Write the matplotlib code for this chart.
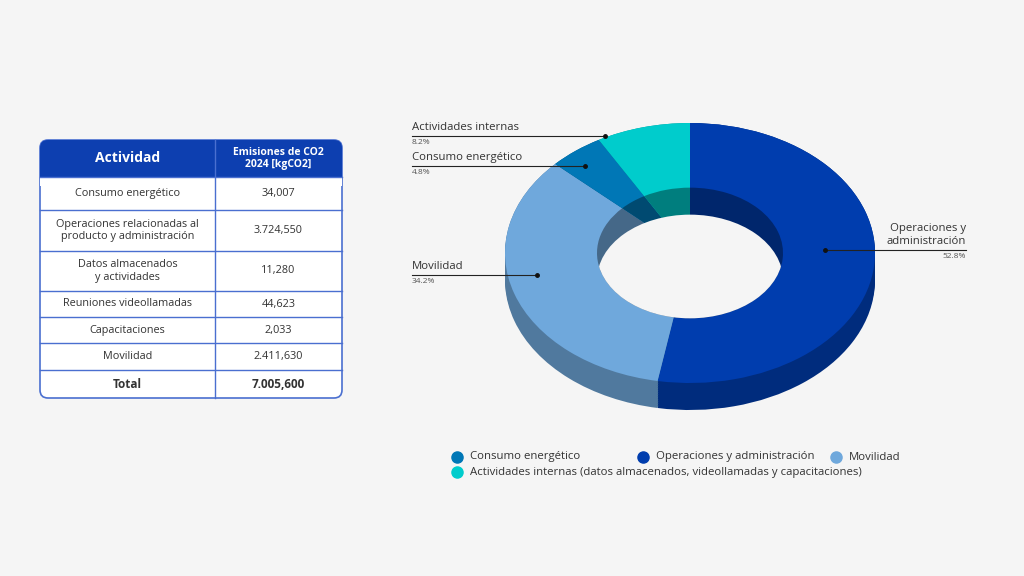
import matplotlib
matplotlib.use("Agg")
import matplotlib.pyplot as plt
from matplotlib.patches import FancyBboxPatch, Rectangle, Circle
import colorsys
import matplotlib.colors as mc

plt.rcParams['font.family'] = ['Open Sans', 'DejaVu Sans']

# Data
rows = ["Consumo energético", "Operaciones relacionadas al\nproducto y administración",
        "Datos almacenados\ny actividades", "Reuniones videollamadas",
        "Capacitaciones", "Movilidad"]
row_vals = ["34,007", "3.724,550", "11,280", "44,623", "2,033", "2.411,630"]
total_val = "7.005,600"

slices = ["Operaciones y\nadministración", "Movilidad", "Consumo energético", "Actividades internas"]
shares = [52.8, 34.2, 4.8, 8.2]
colors = ["#003DAE", "#6FA8DC", "#0077B6", "#00CCCC"]
legend_labels = ["Consumo energético", "Operaciones y administración", "Movilidad",
                 "Actividades internas (datos almacenados, videollamadas y capacitaciones)"]
legend_colors = ["#0077B6", "#003DAE", "#6FA8DC", "#00CCCC"]

BG = "#F5F5F5"
W, H = 1024, 576
fig = plt.figure(figsize=(W / 100, H / 100), dpi=100, facecolor=BG)

def darker(c, f):
    r, g, b = mc.to_rgb(c)
    return (r * f, g * f, b * f)

# ---- donut (3D look) ----
cx, cy, rx, ry = 690, 253, 185, 130
L, R, T, B = 480, 900, 100, 430
dax = fig.add_axes([L / W, 1 - B / H, (R - L) / W, (B - T) / H])
dax.set_xlim(-(cx - L) / rx, (R - cx) / rx)
dax.set_ylim(-(B - cy) / ry, (cy - T) / ry)
dax.axis("off")
depth = 27 / ry
rin = 93 / rx
side = [darker(c, 0.72) for c in colors]
kw = dict(startangle=90, counterclock=False, radius=1, frame=True)
n = 12
for i in range(n + 1):
    dax.pie(shares, colors=side, center=(0, -depth * (1 - i / n)), **kw)
dax.pie(shares, colors=colors, center=(0, 0), **kw)
inner = [darker(c, 0.62) for c in colors]
w, _ = dax.pie(shares, colors=inner, center=(0, 0), startangle=90,
               counterclock=False, radius=rin, frame=True)
clip = Circle((0, 0), rin, transform=dax.transData)
hole = Circle((0, -depth), rin, facecolor=BG, edgecolor="none", zorder=10)
dax.add_patch(hole)
hole.set_clip_path(clip)
dax.set_xlim(-(cx - L) / rx, (R - cx) / rx)
dax.set_ylim(-(B - cy) / ry, (cy - T) / ry)
dax.set_aspect("auto")
dax.axis("off")

# ---- overlay in pixel coords ----
ax = fig.add_axes([0, 0, 1, 1], facecolor="none")
ax.set_xlim(0, W)
ax.set_ylim(H, 0)
ax.axis("off")

# annotations: (text x, line y, line x0, x1, dot x, dot y, align)
ann = [
    (slices[3], "8.2%", 412, 136, 412, 605, 605, 136, "left"),
    (slices[2], "4.8%", 412, 166, 412, 585, 585, 166, "left"),
    ("Movilidad", "34.2%", 412, 275, 412, 537, 537, 275, "left"),
    (slices[0], "52.8%", 966, 250, 825, 966, 825, 250, "right"),
]
for name, pct, tx, ly, x0, x1, dx, dy, ha in ann:
    ax.plot([x0, x1], [ly, ly], color="#222222", lw=0.8)
    ax.plot(dx, dy, "o", color="#111111", ms=2.5)
    ax.text(tx, ly - 3, name, ha=ha, va="bottom", fontsize=8.2, color="#333333",
            linespacing=1.2)
    ax.text(tx, ly + 3, pct, ha=ha, va="top", fontsize=6, color="#555555")

# legend
leg_pos = [(457, 457), (643, 457), (836, 457), (457, 472)]
for (lx, ly), lab, col in zip(leg_pos, legend_labels, legend_colors):
    ax.plot(lx, ly, "o", color=col, ms=8)
    ax.text(lx + 13, ly, lab, va="center", fontsize=8.2, color="#333333")

# ---- table ----
tx0, tx1, tmid = 40, 342, 215
edges = [140, 177, 210, 251, 291, 317, 343, 370, 398]
blue = "#0D3FB0"
line = "#4A6FD0"
box = FancyBboxPatch((tx0, edges[0]), tx1 - tx0, edges[-1] - edges[0],
                     boxstyle="round,pad=0,rounding_size=8", facecolor="white",
                     edgecolor=line, lw=1.2, zorder=1)
ax.add_patch(box)
hdr = FancyBboxPatch((tx0, edges[0]), tx1 - tx0, edges[1] - edges[0] + 8,
                     boxstyle="round,pad=0,rounding_size=8", facecolor=blue,
                     edgecolor="none", zorder=2)
ax.add_patch(hdr)
ax.add_patch(Rectangle((tx0, edges[1]), tx1 - tx0, 9, facecolor="white", zorder=2.5))
ax.plot([tmid, tmid], [edges[0], edges[-1]], color=line, lw=1, zorder=3)
for e in edges[1:-1]:
    ax.plot([tx0, tx1], [e, e], color=line, lw=1, zorder=3)
ax.text((tx0 + tmid) / 2, (edges[0] + edges[1]) / 2, "Actividad", ha="center",
        va="center", fontsize=10, fontweight="bold", color="white", zorder=4)
ax.text((tmid + tx1) / 2, (edges[0] + edges[1]) / 2, "Emisiones de CO2\n2024 [kgCO2]",
        ha="center", va="center", fontsize=7.5, fontweight="bold", color="white",
        zorder=4, linespacing=1.2)
labels = rows + ["Total"]
vals = row_vals + [total_val]
for i, (lab, v) in enumerate(zip(labels, vals)):
    yc = (edges[i + 1] + edges[i + 2]) / 2
    bold = "bold" if lab == "Total" else "normal"
    fs = 8.5 if lab == "Total" else 7.8
    ax.text((tx0 + tmid) / 2, yc, lab, ha="center", va="center", fontsize=fs,
            fontweight=bold, color="#333333", zorder=4, linespacing=1.2)
    ax.text((tmid + tx1) / 2, yc, v, ha="center", va="center", fontsize=fs,
            fontweight=bold, color="#333333", zorder=4)

fig.savefig("out.png", dpi=100, facecolor=BG)
